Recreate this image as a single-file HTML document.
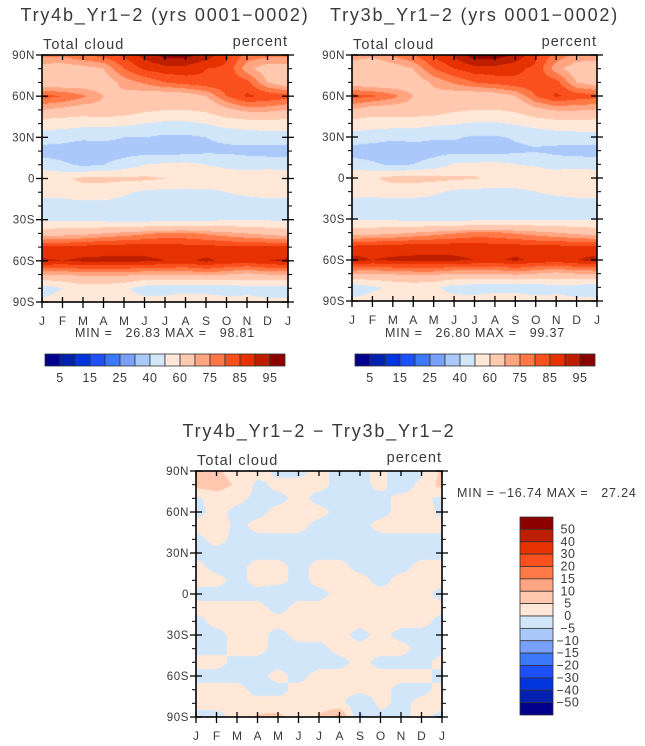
<!DOCTYPE html>
<html><head><meta charset="utf-8">
<style>
html,body{margin:0;padding:0;background:#fff;}
#wrap{position:relative;width:645px;height:746px;overflow:hidden;}
canvas{position:absolute;}
svg{position:absolute;left:0;top:0;}
text{font-family:"Liberation Sans",sans-serif;fill:#3a3a3a;}
</style></head><body>
<div id="wrap">
<canvas id="c1"></canvas>
<canvas id="c2"></canvas>
<canvas id="c3"></canvas>
<svg id="s" width="645" height="746"></svg>
</div>
<script>
const months = ["J","F","M","A","M","J","J","A","S","O","N","D","J"];
const latLabels = ["90N","60N","30N","0","30S","60S","90S"];
const absLevels = [5,10,15,20,25,30,40,50,60,70,75,80,85,90,95];
const absTickLabels = ["5","15","25","40","60","75","85","95"];
const diffLevels = [-50,-40,-30,-20,-15,-10,-5,0,5,10,15,20,30,40,50];
const diffTickLabels = ["50","40","30","20","15","10","5","0","\u22125","\u221210","\u221215","\u221220","\u221230","\u221240","\u221250"];
// rows: 90N..90S every 10 deg; columns: Jan..Dec
const try4b = [
[77,76,80,82,86,92,97,97,93,86,78,77],
[66,66,67,70,80,86,88,88,85,84,72,66],
[65,64,65,66,72,76,80,82,84,84,82,70],
[82,80,76,70,68,66,65,66,70,80,86,84],
[70,68,66,68,66,62,60,60,62,68,72,72],
[55,54,53,53,52,50,48,48,50,54,55,56],
[45,44,42,42,40,40,38,38,40,42,44,45],
[36,35,33,35,36,36,35,36,38,38,37,36],
[45,42,38,40,44,50,52,53,50,48,46,46],
[58,58,62,62,62,62,60,58,56,55,56,58],
[54,54,56,56,52,48,47,47,48,50,52,54],
[45,45,46,46,45,44,44,44,44,45,45,45],
[48,48,48,47,46,46,47,48,48,49,49,49],
[66,67,68,70,72,74,76,76,74,72,70,68],
[86,86,87,88,88,88,88,87,87,86,86,86],
[91,90,91,91,91,91,90,89,91,89,88,90],
[70,70,72,72,72,70,70,70,72,70,68,70],
[45,50,55,55,52,45,44,44,44,44,46,45],
[52,54,54,54,54,54,55,60,58,54,54,52]];
const try3b = [
[74,72,76,80,86,91,98,98,94,86,78,74],
[64,62,66,70,80,85,88,88,86,84,72,66],
[66,64,64,66,71,76,80,82,84,84,82,70],
[82,81,77,70,68,66,65,66,70,80,86,83],
[70,66,66,67,66,62,60,60,62,68,71,71],
[56,54,54,54,52,51,49,49,51,54,56,56],
[46,45,43,43,41,41,39,39,41,43,45,46],
[36,34,32,35,36,37,36,35,38,39,37,36],
[44,42,38,40,44,51,52,53,50,49,46,46],
[59,59,63,63,63,62,61,58,56,55,56,58],
[54,54,55,55,52,48,47,47,48,50,52,54],
[45,44,45,44,45,44,43,43,44,45,45,45],
[49,48,48,47,46,46,47,48,48,49,49,49],
[66,67,68,70,72,74,76,76,74,72,70,68],
[86,87,87,88,88,88,88,87,87,86,86,86],
[92,90,91,91,91,91,90,89,91,89,88,90],
[70,70,71,72,72,70,70,70,72,70,68,70],
[44,48,52,54,52,46,44,44,44,44,46,45],
[52,54,54,54,54,54,55,58,58,54,54,52]];
const diffData = [
[6,6,2,2,-1,-1,1,-1,-1,1,-2,-1],
[7,8,4,-1,1,1,1,-1,-1,1,-2,1],
[-1,2,1,-1,-1,1,-1,-1,-1,-1,1,1],
[-1,1,-1,-1,1,1,1,-1,-1,-1,1,2],
[1,2,-1,1,1,1,-1,-1,-1,1,1,1],
[-1,1,-1,-1,-1,-1,-1,-1,-1,-1,-1,-1],
[-1,-1,-1,-1,-1,-1,-1,-1,-1,-1,-1,-1],
[1,-1,-1,1,1,-1,1,1,-1,-1,-1,1],
[1,1,-1,1,1,-1,1,1,1,-1,1,1],
[-1,-1,-1,-1,-2,-1,-1,1,1,1,1,1],
[1,1,1,1,-1,1,1,1,1,1,1,1],
[-1,1,1,1,1,1,1,1,1,1,1,1],
[-1,-1,1,1,-1,1,1,1,-1,1,-1,-1],
[-1,-1,1,1,-1,-1,-1,1,1,1,1,-1],
[1,1,-1,-1,-1,-1,-1,-1,1,-1,-1,-1],
[-1,-1,-1,-1,1,-1,1,1,1,1,1,1],
[1,1,1,-1,-1,1,1,1,1,1,-1,-1],
[1,1,1,1,1,1,1,1,-3,1,-1,1],
[-1,-1,1,6,7,1,6,12,-6,-1,-1,1]];
const palette = ["#00008c","#0020b0","#0034dc","#1e50fa","#3c78fa","#78a0fa","#aac8fa","#d2e6fa","#ffe8d7","#ffc8af","#ffa582","#ff7846","#fa501e","#e63200","#be1e00","#8c0000"];
const minmax1 = "MIN =   26.83 MAX =   98.81";
const minmax2 = "MIN =   26.80 MAX =   99.37";
const minmax3 = "MIN = \u221216.74 MAX =   27.24";

const S = document.getElementById('s');
const NS = "http://www.w3.org/2000/svg";
function mk(tag, attrs, parent){const e=document.createElementNS(NS,tag);for(const k in attrs)e.setAttribute(k,attrs[k]);(parent||S).appendChild(e);return e;}
function levelIndex(v, lv){let i=0;while(i<lv.length && v>=lv[i])i++;return i;}
function sample(grid, fx, fy){
  const x0=Math.floor(fx), y0=Math.min(Math.floor(fy),17);
  const tx=fx-x0, ty=fy-y0;
  const c0=x0%12, c1=(x0+1)%12;
  const a=grid[y0][c0], b=grid[y0][c1], c=grid[y0+1][c0], d=grid[y0+1][c1];
  return (a*(1-tx)+b*tx)*(1-ty)+(c*(1-tx)+d*tx)*ty;
}
function drawMap(id, grid, lv, x, y, w, h){
  const cv=document.getElementById(id);
  cv.width=w;cv.height=h;cv.style.left=x+'px';cv.style.top=y+'px';
  const ctx=cv.getContext('2d');const img=ctx.createImageData(w,h);
  const rgb=palette.map(p=>[parseInt(p.substr(1,2),16),parseInt(p.substr(3,2),16),parseInt(p.substr(5,2),16)]);
  for(let j=0;j<h;j++)for(let i=0;i<w;i++){
    const v=sample(grid,(i+0.5)/w*12,(j+0.5)/h*18);
    const c=rgb[levelIndex(v,lv)];const o=(j*w+i)*4;
    img.data[o]=c[0];img.data[o+1]=c[1];img.data[o+2]=c[2];img.data[o+3]=255;
  }
  ctx.putImageData(img,0,0);
}
function drawAxes(name, x, y, w, h, title, mm, mmPos){
  const g=mk('g',{});
  
  
  mk('rect',{x:x,y:y,width:w,height:h,fill:'none',stroke:'#000','stroke-width':1.6},g);
  const dx=w/12, dy=h/18;
  for(let m=0;m<=12;m++){
    const xx=x+m*dx;
    mk('line',{x1:xx,y1:y+h-5,x2:xx,y2:y+h+6,stroke:'#000','stroke-width':1.3},g);
    mk('line',{x1:xx,y1:y,x2:xx,y2:y+5,stroke:'#000','stroke-width':1.3},g);
    const t=mk('text',{x:xx,y:y+h+23,'text-anchor':'middle','font-size':12},g);t.textContent=months[m];
    
    
  }
  for(let k=0;k<=18;k++){
    const yy=y+k*dy, major=k%3===0;
    if(major){
      mk('line',{x1:x-6,y1:yy,x2:x+6,y2:yy,stroke:'#000','stroke-width':1.3},g);
      mk('line',{x1:x+w-6,y1:yy,x2:x+w+6,y2:yy,stroke:'#000','stroke-width':1.3},g);
      const t=mk('text',{x:x-7,y:yy+4,'text-anchor':'end','font-size':11.5,'letter-spacing':'0.6'},g);t.textContent=latLabels[k/3];
      
      
    } else {
      mk('line',{x1:x-4,y1:yy,x2:x,y2:yy,stroke:'#000','stroke-width':1},g);
      mk('line',{x1:x+w,y1:yy,x2:x+w+4,y2:yy,stroke:'#000','stroke-width':1},g);
    }
  }
  let t=mk('text',{x:x+1,y:y-6,'font-size':14.5,'letter-spacing':'1.1'},g);t.textContent='Total cloud';
  
  t=mk('text',{x:x+w,y:y-9,'font-size':14.5,'text-anchor':'end','letter-spacing':'1'},g);t.textContent='percent';
  
  t=mk('text',{x:x+w/2,y:y-34,'font-size':18,'text-anchor':'middle','letter-spacing':'1.8'},g);t.textContent=title;
  
  t=mk('text',{x:mmPos[0],y:mmPos[1],'font-size':12.5,'text-anchor':mmPos[2],'letter-spacing':'0.8'},g);t.textContent=mm;
  t.style.whiteSpace='pre';
  
}
function hBar(name, x, y, w, h){
  const g=mk('g',{});
  
  
  const bw=w/palette.length;
  palette.forEach((c,i)=>{mk('rect',{x:x+i*bw,y:y,width:bw,height:h,fill:c,stroke:'#333','stroke-width':0.8},g);});
  absTickLabels.forEach((l,i)=>{
    const t=mk('text',{x:x+(2*i+1)*bw,y:y+h+16,'font-size':12.5,'text-anchor':'middle','letter-spacing':'0.6'},g);t.textContent=l;
    
  });
}
function vBar(name, x, y, w, h){
  const g=mk('g',{});
  
  
  const bh=h/palette.length;
  for(let i=0;i<palette.length;i++){
    mk('rect',{x:x,y:y+i*bh,width:w,height:bh,fill:palette[palette.length-1-i],stroke:'#333','stroke-width':0.8},g);
  }
  diffTickLabels.forEach((l,i)=>{
    const t=mk('text',{x:x+w+15,y:y+(i+1)*bh+4,'font-size':12.5,'text-anchor':'middle','letter-spacing':'0.6'},g);t.textContent=l;
    
  });
}
drawMap('c1',try4b,absLevels,42,55,246,247);
drawMap('c2',try3b,absLevels,352,55,245,246);
drawMap('c3',diffData,diffLevels,196,471,246,246);
drawAxes('try4b',42,55,246,247,'Try4b_Yr1\u22122 (yrs 0001\u22120002)',minmax1,[165,337,'middle']);
drawAxes('try3b',352,55,245,246,'Try3b_Yr1\u22122 (yrs 0001\u22120002)',minmax2,[475,337,'middle']);
drawAxes('difference',196,471,246,246,'Try4b_Yr1\u22122 \u2212 Try3b_Yr1\u22122',minmax3,[457,497,'start']);
hBar('colorbar-try4b',45,354,240,12);
hBar('colorbar-try3b',355,354,240,12);
vBar('colorbar-difference',520,517,33,198);
</script>
</body></html>
